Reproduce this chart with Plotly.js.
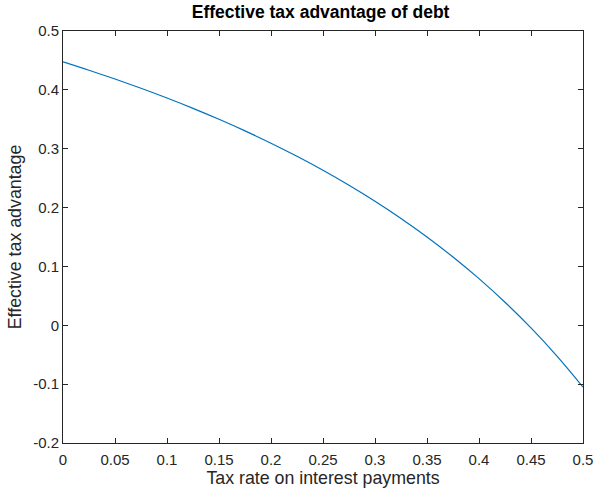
<!DOCTYPE html>
<html><head><meta charset="utf-8">
<script src="https://cdn.plot.ly/plotly-3.0.1.min.js"></script>
<style>html,body{margin:0;padding:0;background:#fff}</style>
</head><body>
<div id="chart" style="width:597px;height:492px"></div>
<script>
const taxRate = [0, 0.025, 0.05, 0.075, 0.1, 0.125, 0.15, 0.175, 0.2, 0.225, 0.25, 0.275, 0.3, 0.325, 0.35, 0.375, 0.4, 0.425, 0.45, 0.475, 0.5];
const advantage = [0.4475, 0.4333, 0.4184, 0.4027, 0.3861, 0.3686, 0.35, 0.3303, 0.3094, 0.2871, 0.2633, 0.2379, 0.2107, 0.1815, 0.15, 0.116, 0.0792, 0.0391, -0.0045, -0.0524, -0.105];
const xTicks = [0, 0.05, 0.1, 0.15, 0.2, 0.25, 0.3, 0.35, 0.4, 0.45, 0.5];
const xTickText = ['0', '0.05', '0.1', '0.15', '0.2', '0.25', '0.3', '0.35', '0.4', '0.45', '0.5'];
const yTicks = [-0.2, -0.1, 0, 0.1, 0.2, 0.3, 0.4, 0.5];
const yTickText = ['-0.2', '-0.1', '0', '0.1', '0.2', '0.3', '0.4', '0.5'];

const FONT = 'Liberation Sans, Arial, sans-serif';
const axisCommon = {
  showgrid: false, zeroline: false, showline: true, mirror: 'ticks',
  linecolor: '#262626', linewidth: 1, ticks: 'inside', ticklen: 5,
  tickcolor: '#262626', tickwidth: 1,
  tickfont: {family: FONT, size: 15, color: '#262626'}
};

Plotly.newPlot('chart', [{
  x: taxRate, y: advantage, type: 'scatter', mode: 'lines',
  line: {color: '#0072BD', width: 1.2, shape: 'spline'}
}], {
  width: 597, height: 492,
  margin: {l: 63, r: 14, t: 31, b: 49},
  paper_bgcolor: '#fff', plot_bgcolor: '#fff',
  showlegend: false,
  title: {text: 'Effective tax advantage of debt', x: 0.537, xanchor: 'center', y: 0.988, yanchor: 'top',
    font: {family: FONT, size: 17.5, color: '#000', weight: 'bold'}},
  xaxis: Object.assign({}, axisCommon, {
    range: [0, 0.5], tickvals: xTicks, ticktext: xTickText, automargin: false,
    ticklabelstandoff: 3,
    title: {text: 'Tax rate on interest payments', standoff: 4,
      font: {family: FONT, size: 17.8, color: '#262626'}}
  }),
  yaxis: Object.assign({}, axisCommon, {
    range: [-0.2, 0.5], tickvals: yTicks, ticktext: yTickText, automargin: false,
    title: {text: 'Effective tax advantage', standoff: 6,
      font: {family: FONT, size: 17.8, color: '#262626'}}
  })
}, {displayModeBar: false});
</script>
</body></html>
